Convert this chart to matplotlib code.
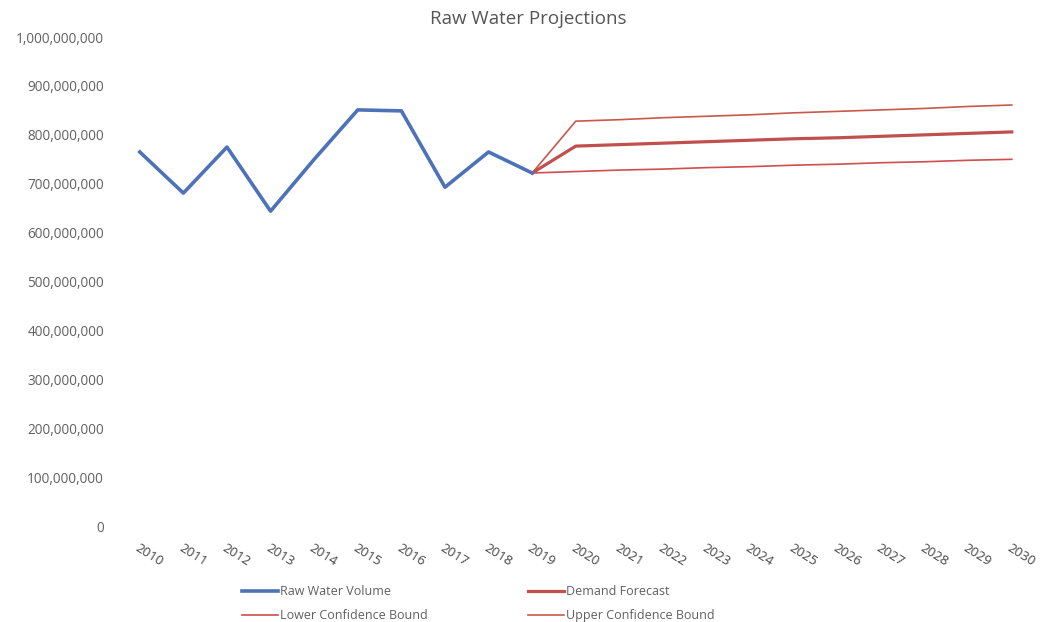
import numpy as np
import matplotlib.pyplot as plt
from matplotlib.ticker import FuncFormatter

plt.rcParams['font.family'] = ['Open Sans', 'DejaVu Sans']

# Annual raw water volume (historical)
years = list(range(2010, 2031))
hist_years = list(range(2010, 2020))
raw_water = [765e6, 681e6, 775e6, 644e6, 750e6, 851e6, 849e6, 693e6, 765e6, 722e6]

# Forecast series, starting from the last observed year
fc_years = list(range(2019, 2031))
demand = [722e6, 777e6, 780e6, 783e6, 786e6, 789e6, 792e6, 794e6, 797e6, 800e6, 803e6, 806e6]
lower = [722e6, 725e6, 728e6, 730e6, 733e6, 735e6, 738e6, 740e6, 743e6, 745e6, 748e6, 750e6]
upper = [722e6, 828e6, 831e6, 835e6, 838e6, 841e6, 845e6, 848e6, 851e6, 854e6, 858e6, 861e6]

text_color = '#606060'

fig = plt.figure(figsize=(10.44, 6.22), dpi=100)
ax = fig.add_axes([0.113, 0.154, 0.877, 0.7865])

h_raw, = ax.plot(hist_years, raw_water, color='#4E72B8', lw=2.6, solid_joinstyle='round',
                 label='Raw Water Volume', zorder=3)
h_up, = ax.plot(fc_years, upper, color='#C9574A', lw=1.2, label='Upper Confidence Bound', zorder=2)
h_lo, = ax.plot(fc_years, lower, color='#CF4E4F', lw=1.2, label='Lower Confidence Bound', zorder=2)
h_dem, = ax.plot(fc_years, demand, color='#C0504D', lw=2.3, label='Demand Forecast', zorder=2)

ax.set_xlim(2009.5, 2030.5)
ax.set_ylim(0, 1e9)
ax.set_yticks(np.arange(0, 1.0e9 + 1, 1e8))
ax.yaxis.set_major_formatter(FuncFormatter(lambda v, p: f'{v:,.0f}'))
ax.set_xticks(years)
ax.set_xticklabels([str(y) for y in years], rotation=-32, ha='left', va='top',
                   rotation_mode='anchor', color='#454545')

for s in ax.spines.values():
    s.set_visible(False)
ax.tick_params(axis='both', length=0)
ax.tick_params(axis='y', pad=10, labelsize=9.8, colors=text_color)
ax.tick_params(axis='x', pad=11, labelsize=9.6)

fig.text(0.506, 0.969, 'Raw Water Projections', ha='center', va='center',
         fontsize=13.5, color='#555555')

leg = fig.legend([h_raw, h_lo, h_dem, h_up],
                 ['Raw Water Volume', 'Lower Confidence Bound', 'Demand Forecast', 'Upper Confidence Bound'],
                 ncol=2, loc='lower left', bbox_to_anchor=(0.221, -0.018),
                 frameon=False, fontsize=9, handlelength=2.9, handletextpad=0.15,
                 columnspacing=8.0, labelspacing=0.85, labelcolor=text_color)

fig.savefig('out.png', dpi=100, facecolor='white')
